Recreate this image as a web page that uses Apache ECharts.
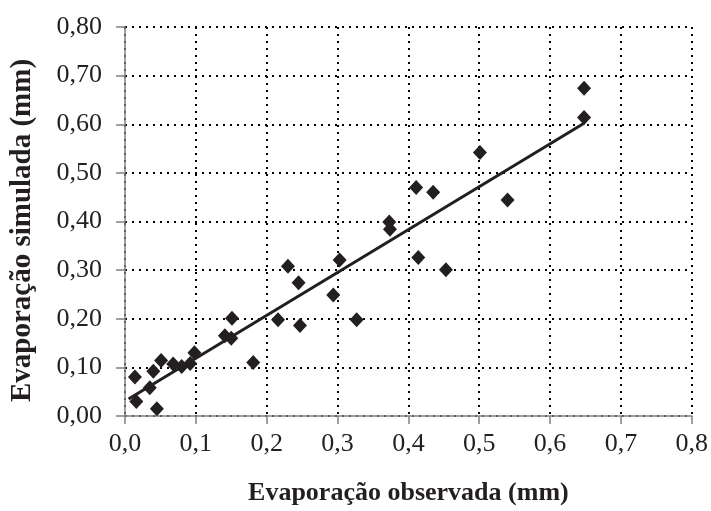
<!DOCTYPE html>
<html>
<head>
<meta charset="utf-8">
<script src="https://cdn.jsdelivr.net/npm/echarts@6/dist/echarts.min.js"></script>
<style>html,body{margin:0;padding:0;background:#fff;}#c{width:711px;height:511px;}</style>
</head>
<body>
<div id="c"></div>
<script>
const obsX = [0.014, 0.016, 0.035, 0.040, 0.045, 0.051, 0.068, 0.080, 0.092, 0.098, 0.141, 0.150, 0.151, 0.181, 0.216, 0.230, 0.245, 0.247, 0.294, 0.303, 0.327, 0.373, 0.374, 0.411, 0.414, 0.435, 0.453, 0.501, 0.540, 0.648, 0.648];
const simY = [0.080, 0.030, 0.058, 0.092, 0.015, 0.114, 0.107, 0.102, 0.108, 0.130, 0.165, 0.160, 0.201, 0.110, 0.198, 0.308, 0.274, 0.186, 0.249, 0.321, 0.198, 0.399, 0.384, 0.470, 0.326, 0.460, 0.301, 0.542, 0.444, 0.674, 0.614];
const trendX = [0.005, 0.648];
const trendY = [0.035, 0.602];
const xTitle = 'Evaporação observada (mm)';
const yTitle = 'Evaporação simulada (mm)';

const font = 'Liberation Serif';
const chart = echarts.init(document.getElementById('c'));
const gridLine = {show: true, lineStyle: {color: '#000', type: [2, 5], width: 2}};
chart.setOption({
  backgroundColor: '#fff',
  animation: false,
  grid: {left: 125, right: 17, top: 27, bottom: 94.5},
  xAxis: {
    type: 'value', min: 0, max: 0.8, interval: 0.1,
    name: xTitle, nameLocation: 'middle', nameGap: 64,
    nameTextStyle: {fontFamily: font, fontWeight: 'bold', fontSize: 26, color: '#231f20'},
    axisLine: {show: true, onZero: false, lineStyle: {color: '#808080', width: 1.5}},
    axisTick: {show: true, inside: false, length: 8, lineStyle: {color: '#808080', width: 1.5}},
    axisLabel: {fontFamily: font, fontSize: 26, color: '#231f20', margin: 15,
      formatter: v => v.toFixed(1).replace('.', ',')},
    splitLine: gridLine
  },
  yAxis: {
    type: 'value', min: 0, max: 0.8, interval: 0.1,
    name: yTitle, nameLocation: 'middle', nameGap: 88, nameRotate: 90,
    nameTextStyle: {fontFamily: font, fontWeight: 'bold', fontSize: 29, color: '#231f20', padding: [0, 18, 0, 0]},
    axisLine: {show: true, onZero: false, lineStyle: {color: '#808080', width: 1.5}},
    axisTick: {show: true, inside: false, length: 9, lineStyle: {color: '#808080', width: 1.5}},
    axisLabel: {fontFamily: font, fontSize: 26, color: '#231f20', margin: 23,
      formatter: v => v.toFixed(2).replace('.', ',')},
    splitLine: gridLine
  },
  series: [
    {
      type: 'line',
      data: trendX.map((x, i) => [x, trendY[i]]),
      symbol: 'none',
      lineStyle: {color: '#231f20', width: 3},
      z: 3
    },
    {
      type: 'scatter',
      data: obsX.map((x, i) => [x, simY[i]]),
      symbol: 'diamond',
      symbolSize: [14, 15],
      itemStyle: {color: '#231f20', opacity: 1},
      z: 4
    }
  ]
});
</script>
</body>
</html>
